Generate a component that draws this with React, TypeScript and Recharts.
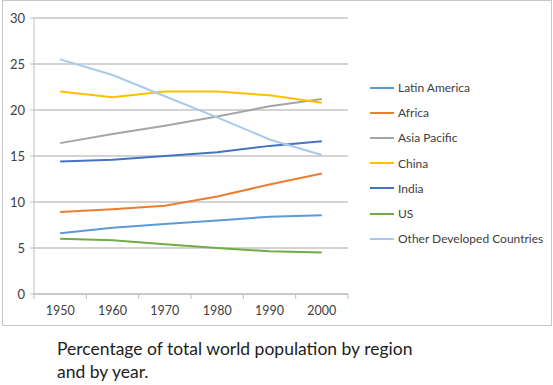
import React from "react";
import {
  LineChart,
  Line,
  XAxis,
  YAxis,
  CartesianGrid,
} from "recharts";

const years = [1950, 1960, 1970, 1980, 1990, 2000];
const latinAmerica = [6.6, 7.2, 7.6, 8.0, 8.4, 8.55];
const africa = [8.9, 9.2, 9.6, 10.6, 11.9, 13.1];
const asiaPacific = [16.4, 17.4, 18.3, 19.3, 20.4, 21.2];
const china = [22.0, 21.4, 22.0, 22.0, 21.6, 20.8];
const india = [14.4, 14.6, 15.0, 15.4, 16.1, 16.6];
const us = [6.0, 5.85, 5.4, 5.0, 4.65, 4.5];
const otherDeveloped = [25.5, 23.8, 21.5, 19.2, 16.8, 15.1];
const xTicks = [1945, 1950, 1955, 1960, 1965, 1970, 1975, 1980, 1985, 1990, 1995, 2000, 2005];
const yTicks = [0, 5, 10, 15, 20, 25, 30];

const series = [
  { key: "Latin America", values: latinAmerica, color: "#5B9BD5" },
  { key: "Africa", values: africa, color: "#ED7D31" },
  { key: "Asia Pacific", values: asiaPacific, color: "#A5A5A5" },
  { key: "China", values: china, color: "#FFC000" },
  { key: "India", values: india, color: "#4472C4" },
  { key: "US", values: us, color: "#70AD47" },
  { key: "Other Developed Countries", values: otherDeveloped, color: "#A9C9EB" },
];

const data = years.map((year, i) => {
  const row: any = { year };
  series.forEach((s) => {
    row[s.key] = s.values[i];
  });
  return row;
});

const FONT = "Lato, 'Open Sans', sans-serif";

// labels on decades, little boundary marks between them
const XTick = (props: any) => {
  const { x, payload } = props;
  if (payload.value % 10 !== 0) {
    return <line x1={x} x2={x} y1={294} y2={299} stroke="#BFBFBF" strokeWidth={1} />;
  }
  return (
    <text x={x} y={315} textAnchor="middle" fontSize={12.5} fill="#404040" fontFamily={FONT}>
      {payload.value}
    </text>
  );
};

export default function App() {
  return (
    <div style={{ position: "absolute", left: 0, top: 0, width: 553, height: 385, background: "#fff" }}>
      <div
        style={{
          position: "absolute",
          left: 2,
          top: 0,
          width: 548,
          height: 324,
          border: "1px solid #C8C8C8",
        }}
      />
      <div style={{ position: "absolute", left: 0, top: 0 }}>
        <LineChart
          width={553}
          height={325}
          data={data}
          margin={{ top: 18, right: 205, bottom: 0, left: 0 }}
        >
          <CartesianGrid vertical={false} stroke="#C4C4C4" strokeWidth={1.3} />
          <XAxis
            dataKey="year"
            type="number"
            domain={[1945, 2005]}
            ticks={xTicks}
            interval={0}
            height={31}
            tickLine={false}
            axisLine={{ stroke: "#BFBFBF" }}
            tick={<XTick />}
          />
          <YAxis
            type="number"
            domain={[0, 30]}
            ticks={yTicks}
            width={34}
            tickSize={4}
            tickMargin={5}
            axisLine={{ stroke: "#BFBFBF" }}
            tickLine={{ stroke: "#BFBFBF" }}
            tick={{ fontSize: 13, fill: "#404040", fontFamily: FONT }}
          />
          {series.map((s) => (
            <Line
              key={s.key}
              type="linear"
              dataKey={s.key}
              stroke={s.color}
              strokeWidth={2}
              dot={false}
              isAnimationActive={false}
            />
          ))}
        </LineChart>
      </div>
      <div
        style={{
          position: "absolute",
          left: 370,
          top: 75,
          fontFamily: FONT,
          fontSize: 12,
          color: "#404040",
        }}
      >
        {series.map((s) => (
          <div key={s.key} style={{ display: "flex", alignItems: "center", height: 25.2 }}>
            <svg width={26} height={4} style={{ marginRight: 2 }}>
              <line x1={0} x2={24} y1={2} y2={2} stroke={s.color} strokeWidth={2} />
            </svg>
            <span>{s.key}</span>
          </div>
        ))}
      </div>
      <div
        style={{
          position: "absolute",
          left: 57,
          top: 337,
          fontFamily: FONT,
          fontSize: 17.5,
          lineHeight: "23px",
          color: "#222",
          width: 420,
        }}
      >
        Percentage of total world population by region
        <br />
        and by year.
      </div>
    </div>
  );
}
